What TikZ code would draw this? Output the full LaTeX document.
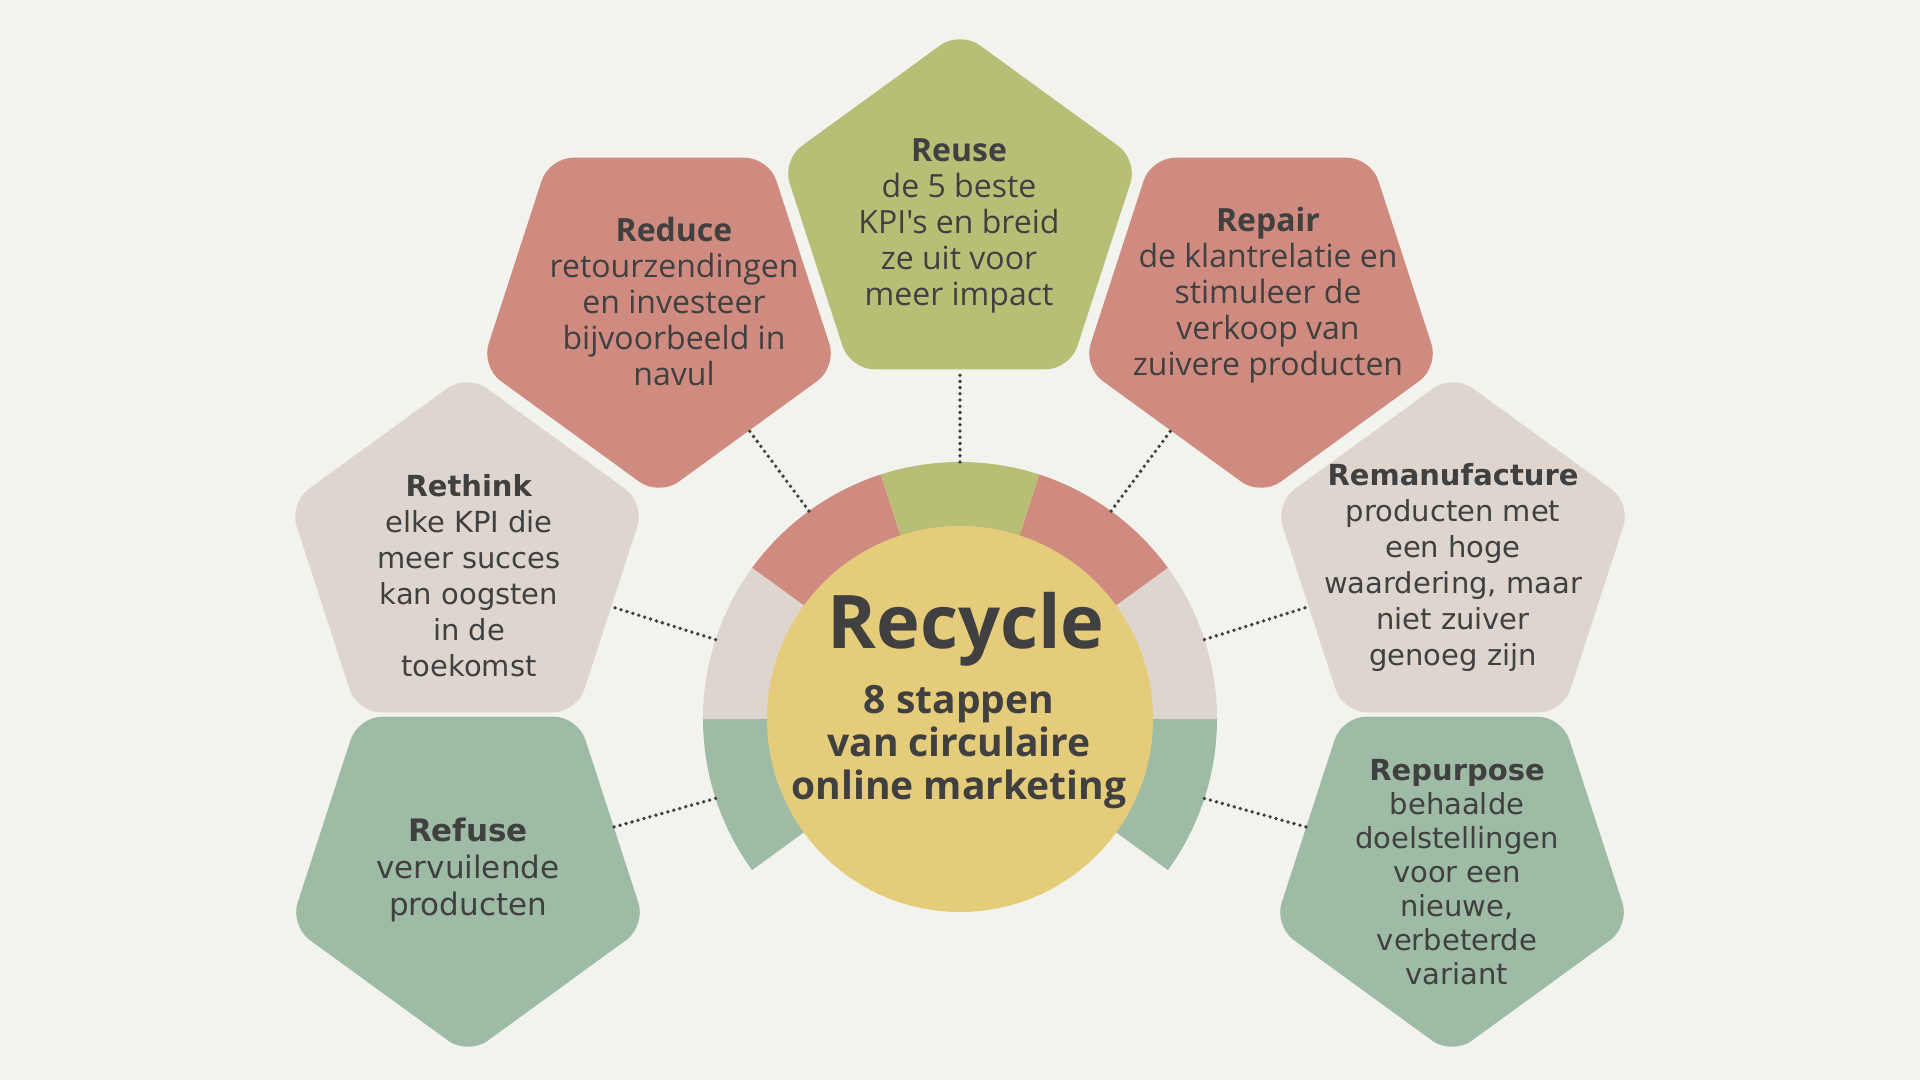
\documentclass[tikz,border=0pt]{standalone}
\usepackage{fontspec}
\setmainfont{Open Sans}[Ligatures=TeXOff]
\newfontfamily\widefont{DejaVu Sans}
\usetikzlibrary{shapes.geometric,calc}
\definecolor{bgc}{HTML}{F2F3EC}
\definecolor{salm}{HTML}{CF8B7F}
\definecolor{oliv}{HTML}{B9BE76}
\definecolor{beig}{HTML}{DED6CE}
\definecolor{sage}{HTML}{9EBBA6}
\definecolor{yell}{HTML}{E5CC7B}
\definecolor{txtc}{HTML}{404040}
\begin{document}
\begin{tikzpicture}[x=0.5pt,y=-0.5pt,
  penta/.style={regular polygon, regular polygon sides=5, minimum size=187pt, inner sep=0pt, outer sep=0pt, rounded corners=12pt, draw=none},
  pdown/.style={penta, shape border rotate=180},
  dotline/.style={line width=1.9pt, dash pattern=on 0pt off 3.1pt, line cap=round, draw=txtc},
  narrowtxt/.style={align=center, text=txtc, font=\fontsize{16}{18}\selectfont},
  widetxt/.style={align=center, text=txtc, font=\widefont\fontsize{14.5}{18}\selectfont},
]
\useasboundingbox (0,0) rectangle (1920,1080);
\fill[bgc] (0,0) rectangle (1920,1080);
\coordinate (c) at (960,719);
% ring segments
\fill[oliv] (c) -- ++(72:128.5pt) arc[start angle=72,end angle=108,radius=128.5pt] -- cycle;
\fill[salm] (c) -- ++(108:128.5pt) arc[start angle=108,end angle=144,radius=128.5pt] -- cycle;
\fill[beig] (c) -- ++(144:128.5pt) arc[start angle=144,end angle=180,radius=128.5pt] -- cycle;
\fill[sage] (c) -- ++(180:128.5pt) arc[start angle=180,end angle=216,radius=128.5pt] -- cycle;
\fill[salm] (c) -- ++(36:128.5pt) arc[start angle=36,end angle=72,radius=128.5pt] -- cycle;
\fill[beig] (c) -- ++(0:128.5pt) arc[start angle=0,end angle=36,radius=128.5pt] -- cycle;
\fill[sage] (c) -- ++(-36:128.5pt) arc[start angle=-36,end angle=0,radius=128.5pt] -- cycle;
% hub
\node[circle, fill=yell, minimum size=193pt, inner sep=0pt] (hub) at (c) {};
% ring points
\coordinate (kreuse) at ($(c)+(90:128.5pt)$);
\coordinate (kreduce) at ($(c)+(126:128.5pt)$);
\coordinate (krepair) at ($(c)+(54:128.5pt)$);
\coordinate (krethink) at ($(c)+(162:128.5pt)$);
\coordinate (kreman) at ($(c)+(18:128.5pt)$);
\coordinate (krefuse) at ($(c)+(198:128.5pt)$);
\coordinate (krepurp) at ($(c)+(-18:128.5pt)$);
% pentagons
\node[penta, fill=oliv] (reuse) at (960,218) {};
\node[pdown, fill=salm] (reduce) at (659,309) {};
\node[pdown, fill=salm] (repair) at (1261,309) {};
\node[penta, fill=beig] (rethink) at (467,561) {};
\node[penta, fill=beig] (reman) at (1453,561) {};
\node[pdown, fill=sage] (refuse) at (468,868) {};
\node[pdown, fill=sage] (repurp) at (1452,868) {};
% connectors
\draw[dotline] (kreuse) -- (reuse);
\draw[dotline] (kreduce) -- (reduce);
\draw[dotline] (krepair) -- (repair);
\draw[dotline] (krethink) -- (rethink);
\draw[dotline] (kreman) -- (reman);
\draw[dotline] (krefuse) -- (refuse);
\draw[dotline] (krepurp) -- (repurp);
% texts
\node[narrowtxt] (reuseT) at (959,226) {\textbf{Reuse}\\de 5 beste\\KPI's en breid\\ze uit voor\\meer impact};
\node[narrowtxt] (reduceT) at (674,302) {\textbf{Reduce}\\retourzendingen\\en investeer\\bijvoorbeeld in\\navul};
\node[narrowtxt] (repairT) at (1268,295) {\textbf{Repair}\\de klantrelatie en\\stimuleer de\\verkoop van\\zuivere producten};
\node[widetxt] (rethinkT) at (469,576) {\textbf{Rethink}\\elke KPI die\\meer succes\\kan oogsten\\in de\\toekomst};
\node[widetxt] (remanT) at (1453,567) {\textbf{Remanufacture}\\producten met\\een hoge\\waardering, maar\\niet zuiver\\genoeg zijn};
\node[widetxt, font=\widefont\fontsize{15.5}{18.5}\selectfont] (refuseT) at (468,870) {\textbf{Refuse}\\vervuilende\\producten};
\node[widetxt, font=\widefont\fontsize{14.5}{17}\selectfont] (repurpT) at (1457,872) {\textbf{Repurpose}\\behaalde\\doelstellingen\\voor een\\nieuwe,\\verbeterde\\variant};
\node[anchor=base, text=txtc, font=\bfseries\fontsize{37}{40}\selectfont] (recycleT) at (966,648) {Recycle};
\node[align=center, text=txtc, font=\bfseries\fontsize{19.5}{21.5}\selectfont] (subT) at (959,747) {8 stappen\\van circulaire\\online marketing};
\end{tikzpicture}
\end{document}
